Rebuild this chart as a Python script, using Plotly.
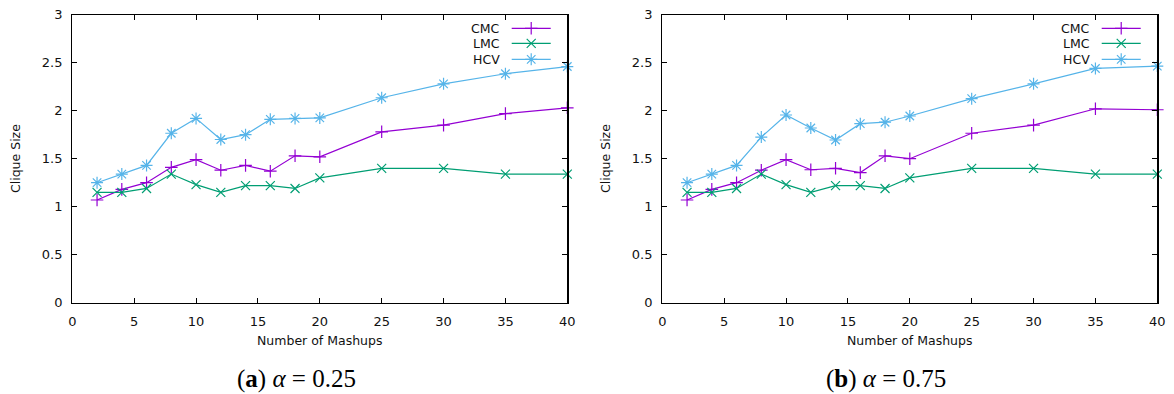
import plotly.graph_objects as go

mashups = [2, 4, 6, 8, 10, 12, 14, 16, 18, 20, 25, 30, 35, 40]

# (a) alpha = 0.25
cmc_a = [1.07, 1.18, 1.25, 1.41, 1.49, 1.38, 1.43, 1.37, 1.53, 1.52, 1.78, 1.85, 1.97, 2.03]
lmc_a = [1.15, 1.15, 1.19, 1.34, 1.23, 1.15, 1.22, 1.22, 1.19, 1.30, 1.40, 1.40, 1.34, 1.34]
hcv_a = [1.25, 1.34, 1.43, 1.765, 1.92, 1.70, 1.75, 1.91, 1.92, 1.925, 2.135, 2.28, 2.385, 2.46]

# (b) alpha = 0.75
cmc_b = [1.07, 1.18, 1.25, 1.38, 1.49, 1.385, 1.40, 1.355, 1.53, 1.50, 1.765, 1.85, 2.02, 2.01]
lmc_b = [1.15, 1.15, 1.19, 1.34, 1.23, 1.15, 1.22, 1.22, 1.19, 1.30, 1.40, 1.40, 1.34, 1.34]
hcv_b = [1.25, 1.34, 1.43, 1.725, 1.955, 1.82, 1.695, 1.865, 1.88, 1.945, 2.125, 2.28, 2.44, 2.465]

series_names = ["CMC", "LMC", "HCV"]
colors = ["#9400D3", "#009E73", "#56B4E9"]
symbols = ["cross-thin-open", "x-thin-open", "asterisk-open"]
marker_sizes = [9, 9, 10]
captions = ["(<b>a</b>) <i>α</i> = 0.25", "(<b>b</b>) <i>α</i> = 0.75"]
x_ticks = [0, 5, 10, 15, 20, 25, 30, 35, 40]
y_ticks = [0, 0.5, 1, 1.5, 2, 2.5, 3]

W, H = 1174, 394
FONT = "DejaVu Sans"

fig = go.Figure()

panels = [(cmc_a, lmc_a, hcv_a), (cmc_b, lmc_b, hcv_b)]
x_left_px = [72.3, 662.3]
plot_w = 495.0
top_px, bot_px = 14.7, 302.7
ydom = [1 - bot_px / H, 1 - top_px / H]

for p, data in enumerate(panels):
    xa = "x" if p == 0 else "x2"
    ya = "y" if p == 0 else "y2"
    for name, vals, col, sym, ms in zip(series_names, data, colors, symbols, marker_sizes):
        fig.add_trace(go.Scatter(
            x=mashups, y=vals, mode="lines+markers", name=name,
            xaxis=xa, yaxis=ya, showlegend=False, cliponaxis=False,
            line=dict(color=col, width=1.2),
            marker=dict(symbol=sym, size=ms, color=col, line=dict(color=col, width=1.2)),
        ))

axis_common = dict(
    showline=True, linecolor="black", linewidth=1.2, mirror="ticks",
    ticks="inside", ticklen=5, tickcolor="black", tickwidth=1,
    showgrid=False, zeroline=False, automargin=False,
    tickfont=dict(family=FONT, size=13, color="#111111"),
)

layout_axes = {}
for p in range(2):
    x0 = x_left_px[p] / W
    x1 = (x_left_px[p] + plot_w) / W
    xkey = "xaxis" if p == 0 else "xaxis2"
    ykey = "yaxis" if p == 0 else "yaxis2"
    base_x = "x" if p == 0 else "x2"
    base_y = "y" if p == 0 else "y2"
    layout_axes[xkey] = dict(domain=[x0, x1], range=[0, 40], tickvals=x_ticks,
                             anchor=base_y, ticklabelstandoff=6, **axis_common)
    layout_axes[ykey] = dict(domain=ydom, range=[0, 3], tickvals=y_ticks,
                             anchor=base_x, ticklabelstandoff=6, **axis_common)
    # hidden overlay axes for the legend samples (range 0..1 over the plot area)
    lx = "xaxis%d" % (p + 3)
    ly = "yaxis%d" % (p + 3)
    layout_axes[lx] = dict(overlaying=base_x, range=[0, 1], visible=False,
                           anchor="y%d" % (p + 3), fixedrange=True, automargin=False)
    layout_axes[ly] = dict(overlaying=base_y, range=[0, 1], visible=False,
                           anchor="x%d" % (p + 3), fixedrange=True, automargin=False)

fig.update_layout(**layout_axes)

# legend (text on left, sample on right, as in gnuplot)
leg_y = [0.9528, 0.9007, 0.8451]
leg_text_x = 0.8675
leg_line = (0.8877, 0.9665)
annotations = []
for p in range(2):
    lxa = "x%d" % (p + 3)
    lya = "y%d" % (p + 3)
    for name, col, sym, ms, yy in zip(series_names, colors, symbols, marker_sizes, leg_y):
        fig.add_trace(go.Scatter(
            x=[leg_line[0], leg_line[1]], y=[yy, yy],
            mode="lines", xaxis=lxa, yaxis=lya, showlegend=False, hoverinfo="skip",
            line=dict(color=col, width=1.2),
        ))
        fig.add_trace(go.Scatter(
            x=[(leg_line[0] + leg_line[1]) / 2], y=[yy],
            mode="markers", xaxis=lxa, yaxis=lya, showlegend=False, hoverinfo="skip",
            marker=dict(symbol=sym, size=ms, color=col, line=dict(color=col, width=1.2)),
        ))
        annotations.append(dict(
            text=name, xref="paper", yref="paper",
            x=(x_left_px[p] + leg_text_x * plot_w) / W,
            y=ydom[0] + yy * (ydom[1] - ydom[0]),
            xanchor="right", yanchor="middle", showarrow=False,
            font=dict(family=FONT, size=12.5, color="#111111"),
        ))
    # axis titles
    xc = (x_left_px[p] + plot_w / 2) / W
    annotations.append(dict(
        text="Number of Mashups", xref="paper", yref="paper", x=xc, y=1 - 340 / H,
        xanchor="center", yanchor="middle", showarrow=False,
        font=dict(family=FONT, size=12.5, color="#111111"),
    ))
    annotations.append(dict(
        text="Clique Size", xref="paper", yref="paper", x=(x_left_px[p] - 57) / W,
        y=1 - (top_px + bot_px) / 2 / H, xanchor="center", yanchor="middle",
        textangle=-90, showarrow=False,
        font=dict(family=FONT, size=12.5, color="#111111"),
    ))
    # caption
    annotations.append(dict(
        text=captions[p], xref="paper", yref="paper", x=(x_left_px[p] + 224) / W,
        y=1 - 379 / H, xanchor="center", yanchor="middle", showarrow=False,
        font=dict(family="Liberation Serif", size=25, color="black"),
    ))

fig.update_layout(
    width=W, height=H, margin=dict(l=0, r=0, t=0, b=0),
    paper_bgcolor="white", plot_bgcolor="white",
    showlegend=False, annotations=annotations,
)

fig.write_html(
    "out.html",
    config={"displayModeBar": False, "staticPlot": True},
    post_script="document.body.style.margin='0';document.body.style.padding='0';"
                "document.documentElement.style.overflow='hidden';",
)
